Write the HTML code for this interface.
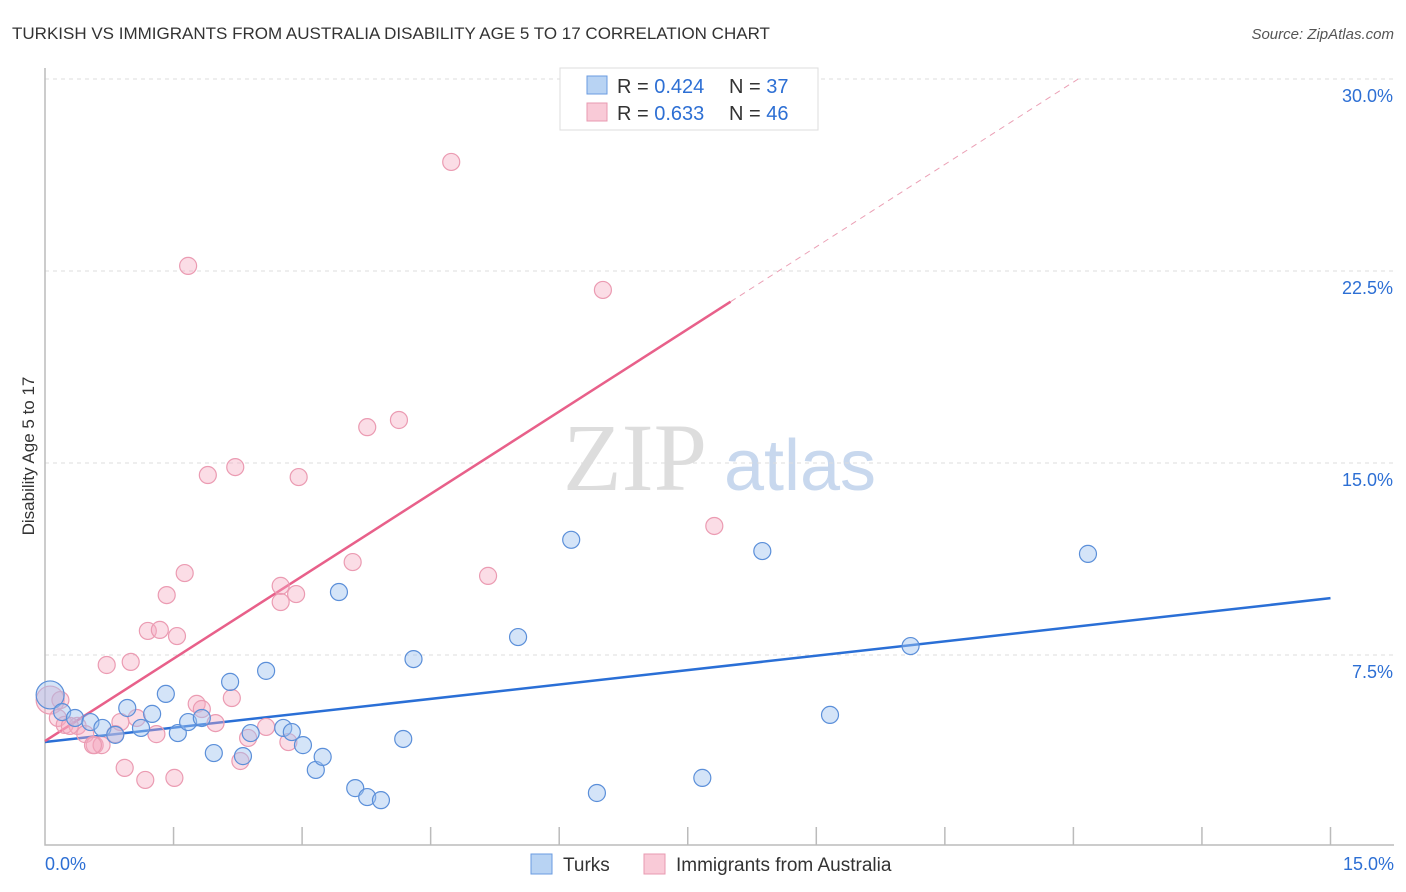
<!DOCTYPE html>
<html><head><meta charset="utf-8"><style>
body{margin:0;background:#fff;font-family:"Liberation Sans",sans-serif}
svg{display:block}
</style></head><body>
<svg id="chart" width="1406" height="892" viewBox="0 0 1406 892" xmlns="http://www.w3.org/2000/svg">
<text x="12" y="39" font-size="17" fill="#333">TURKISH VS IMMIGRANTS FROM AUSTRALIA DISABILITY AGE 5 TO 17 CORRELATION CHART</text>
<text x="1394" y="39" font-size="15" fill="#555" font-style="italic" text-anchor="end">Source: ZipAtlas.com</text>
<text transform="translate(34,456) rotate(-90)" font-size="17" fill="#333" text-anchor="middle">Disability Age 5 to 17</text>
<g>
<text x="635" y="490" font-size="96" fill="#ddd" font-family="Liberation Serif,serif" text-anchor="middle">ZIP</text>
<text x="800" y="490" font-size="72" fill="#c8d8ee" text-anchor="middle">atlas</text>
</g>
<g id="grid"></g><g id="axes"></g><g id="lines"></g><g id="pts"></g>
<g>
<rect x="560" y="68" width="258" height="62" fill="#fff" stroke="#ddd"/>
<rect x="587" y="76" width="20" height="18" fill="#b8d3f3" stroke="#6a9be0"/>
<text x="617" y="93" font-size="20" fill="#333">R = <tspan fill="#2d6fd4">0.424</tspan></text>
<text x="729" y="93" font-size="20" fill="#333">N = <tspan fill="#2d6fd4">37</tspan></text>
<rect x="587" y="103" width="20" height="18" fill="#f9cad7" stroke="#e89ab0"/>
<text x="617" y="120" font-size="20" fill="#333">R = <tspan fill="#2d6fd4">0.633</tspan></text>
<text x="729" y="120" font-size="20" fill="#333">N = <tspan fill="#2d6fd4">46</tspan></text>
</g>
<g>
<rect x="531" y="854" width="21" height="20" fill="#b8d3f3" stroke="#6a9be0"/>
<text x="563" y="871" font-size="19" fill="#333">Turks</text>
<rect x="644" y="854" width="21" height="20" fill="#f9cad7" stroke="#e89ab0"/>
<text x="676" y="871" font-size="19" fill="#333">Immigrants from Australia</text>
</g>
</svg>
<script>
const yTicks=[7.5,15,22.5,30];
const yTickLabels=["7.5%","15.0%","22.5%","30.0%"];
const turksX=[0.06,0.2,0.35,0.53,0.67,0.82,0.96,1.12,1.25,1.41,1.55,1.67,1.83,1.97,2.16,2.31,2.40,2.58,2.78,2.88,3.01,3.16,3.24,3.43,3.62,3.76,3.92,4.18,4.30,5.52,6.14,6.44,7.67,8.37,9.16,10.1,12.17];
const turksY=[5.94,5.27,5.04,4.88,4.65,4.38,5.43,4.65,5.2,5.98,4.45,4.88,5.04,3.67,6.45,3.55,4.45,6.88,4.65,4.49,3.98,3.01,3.52,9.96,2.30,1.95,1.83,4.22,7.34,8.2,12.0,2.11,2.7,11.56,5.16,7.85,11.45];
const ausX=[0.06,0.15,0.23,0.38,0.47,0.58,0.66,0.72,0.82,0.93,1.0,1.07,1.17,1.20,1.30,1.34,1.42,1.51,1.54,1.63,1.67,1.77,1.83,1.90,1.99,2.18,2.22,2.28,2.37,2.58,2.75,2.75,2.84,2.93,2.96,3.59,3.76,4.13,4.74,5.17,6.51,7.81,0.56,0.88,0.29,0.18];
const ausY=[5.74,5.04,4.77,4.73,4.41,3.98,3.98,7.11,4.41,3.09,7.23,5.04,2.62,8.44,4.41,8.48,9.84,2.70,8.24,10.7,22.7,5.59,5.39,14.53,4.84,5.82,14.84,3.36,4.26,4.69,10.2,9.57,4.10,9.88,14.45,11.13,16.4,16.68,26.76,10.59,21.76,12.54,3.98,4.88,4.73,5.74];
const blueLine=[4.1,9.72]; // y at x=0 and x=15
const pinkLine=[4.14,2.145]; // intercept, slope
const X=v=>45+v*85.7, Y=v=>847-v*25.6;
const NS="http://www.w3.org/2000/svg";
function mk(t,a,p){const e=document.createElementNS(NS,t);for(const k in a)e.setAttribute(k,a[k]);p.appendChild(e);return e;}
const grid=document.getElementById('grid'),axes=document.getElementById('axes'),lines=document.getElementById('lines'),pts=document.getElementById('pts');
yTicks.forEach((t,i)=>{
 const g=mk('line',{x1:45,x2:1394,y1:Y(t),y2:Y(t),stroke:'#ddd','stroke-dasharray':'4,4'},grid);
 
 
 const l=mk('text',{x:1393,y:Y(t)+23,'font-size':18,fill:'#2d6fd4','text-anchor':'end'},axes);
 l.textContent=yTickLabels[i];
 
 
});
const ax=mk('path',{d:'M45 68V845H1394',fill:'none',stroke:'#bbb','stroke-width':1.5},axes);


for(let i=1;i<=10;i++){const t=mk('line',{x1:X(i*1.5),x2:X(i*1.5),y1:827,y2:845,stroke:'#bbb','stroke-width':1.5},axes);
 
 }
[["0.0%",45,'start'],["15.0%",1394,'end']].forEach(d=>{const t=mk('text',{x:d[1],y:870,'font-size':18,fill:'#2d6fd4','text-anchor':d[2]},axes);t.textContent=d[0];
 
 });
ausX.forEach((x,i)=>{const c=mk('circle',{cx:X(x),cy:Y(ausY[i]),r:i==0?14:8.5,fill:'rgba(246,170,192,0.4)',stroke:'#eb9bb2','stroke-width':1.2},pts);
 
 });
turksX.forEach((x,i)=>{const c=mk('circle',{cx:X(x),cy:Y(turksY[i]),r:i==0?14:8.5,fill:'rgba(160,196,240,0.45)',stroke:'#5b8fd9','stroke-width':1.2},pts);
 
 });
const bl=mk('line',{x1:X(0),y1:Y(blueLine[0]),x2:X(15),y2:Y(blueLine[1]),stroke:'#2a6fd6','stroke-width':2.5},lines);


const xe=8.0, xd=(30-pinkLine[0])/pinkLine[1];
const pl=mk('line',{x1:X(0),y1:Y(pinkLine[0]),x2:X(xe),y2:Y(pinkLine[0]+pinkLine[1]*xe),stroke:'#e8608a','stroke-width':2.5},lines);


const pd=mk('line',{x1:X(xe),y1:Y(pinkLine[0]+pinkLine[1]*xe),x2:X(xd),y2:Y(30),stroke:'#eba0b5','stroke-width':1,'stroke-dasharray':'6,5'},lines);


</script>
</body></html>
